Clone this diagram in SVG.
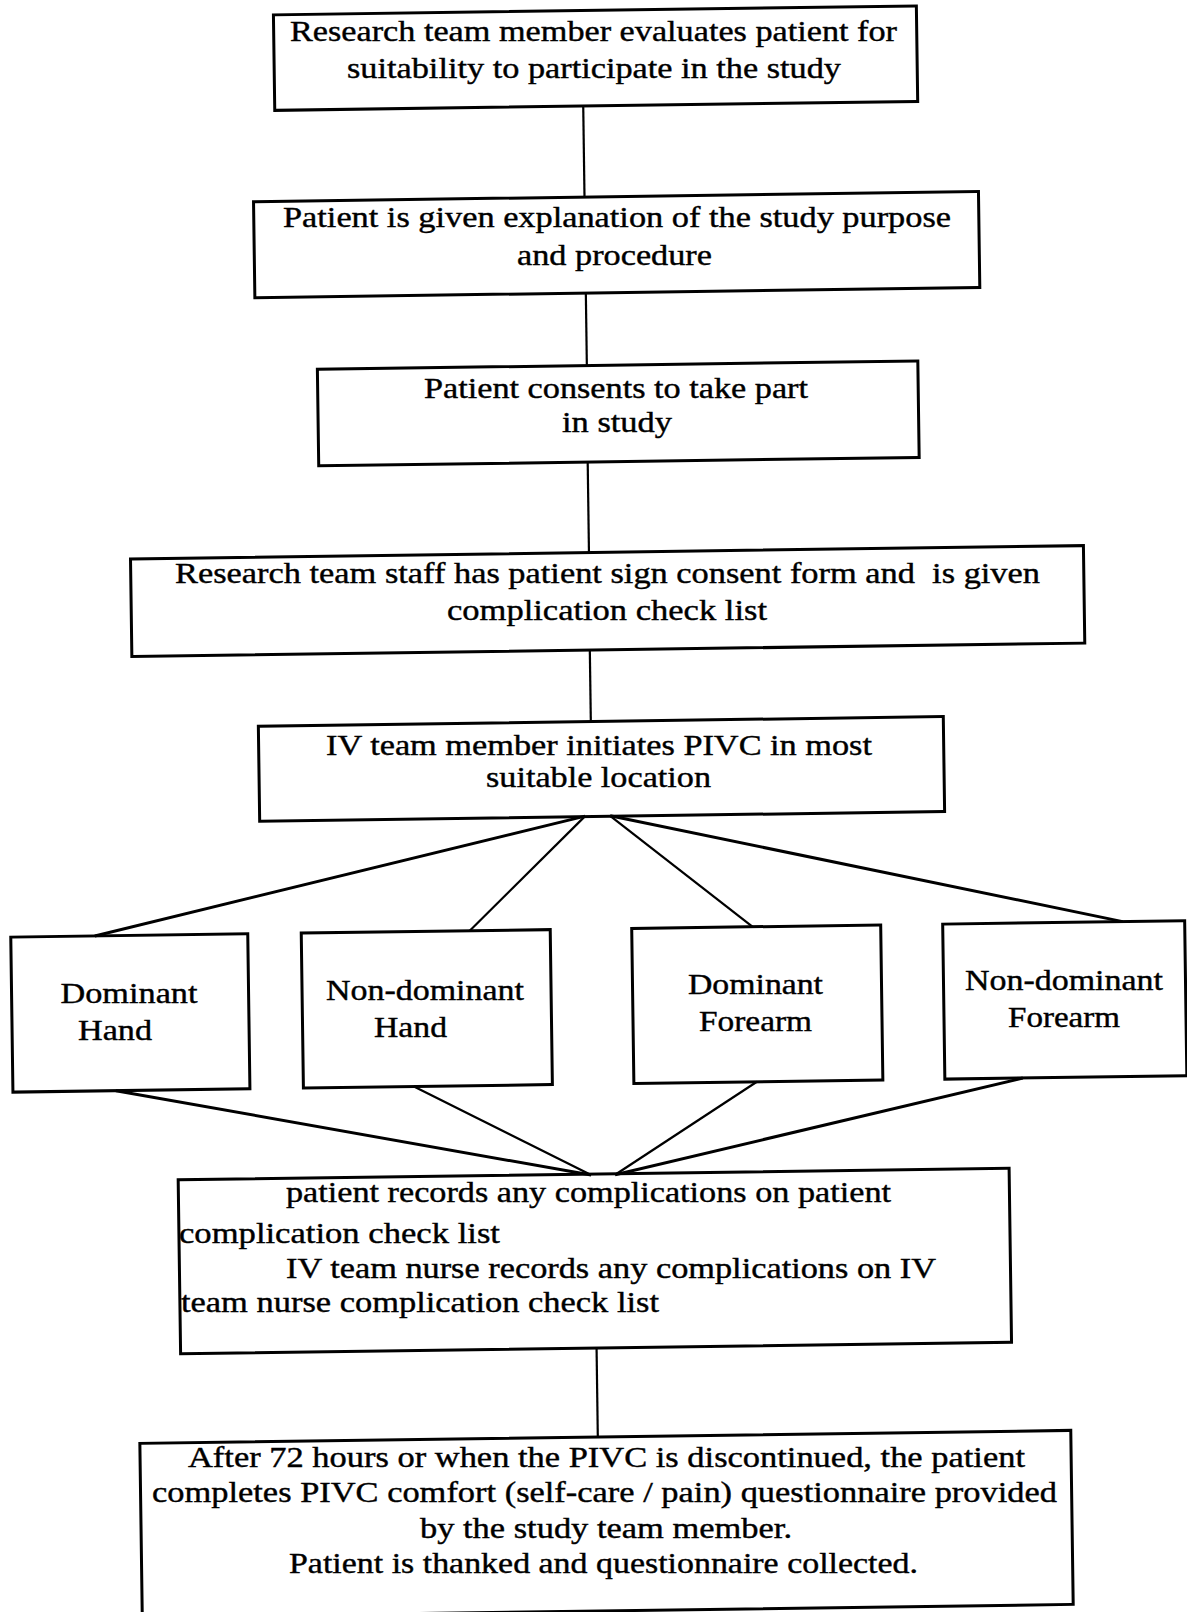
<svg xmlns="http://www.w3.org/2000/svg" width="1187" height="1612" viewBox="0 0 1187 1612">
<style>
.box{fill:none;stroke:#000;stroke-width:3}
.t{font-family:"Liberation Serif","Times New Roman",serif;font-size:29px;fill:#000;stroke:#000;stroke-width:0.4}
.m{text-anchor:middle}
.c{fill:none;stroke:#000;stroke-width:2.2}
.f{fill:none;stroke:#000;stroke-width:3}
</style>
<rect width="1187" height="1612" fill="#fff"/>
<g id="connectors" transform="rotate(-0.8 593 806)">
<line class="c" x1="593" y1="106" x2="593" y2="197"/>
<line class="c" x1="593" y1="293" x2="593" y2="365"/>
<line class="c" x1="592.5" y1="462" x2="592.5" y2="552"/>
<line class="c" x1="592" y1="650" x2="592" y2="722"/>
<line class="f" x1="585" y1="816" x2="93" y2="929"/>
<line class="c" x1="585" y1="816" x2="468" y2="929"/>
<line class="c" x1="610" y1="816" x2="751" y2="929"/>
<line class="f" x1="610" y1="816" x2="1121" y2="929"/>
<line class="f" x1="112" y1="1084" x2="586" y2="1175"/>
<line class="c" x1="410" y1="1084" x2="586" y2="1175"/>
<line class="c" x1="753" y1="1084" x2="610" y2="1175"/>
<line class="f" x1="1019" y1="1084" x2="610" y2="1175"/>
<line class="c" x1="589" y1="1348" x2="589" y2="1437"/>
</g>
<g id="n1">
<rect class="box" x="284.5" y="10.5" width="643" height="95.5" transform="rotate(-0.8 593 806)"/>
<text class="t m" x="593.5" y="41" textLength="607" lengthAdjust="spacingAndGlyphs">Research team member evaluates patient for</text>
<text class="t m" x="594" y="77.5" textLength="494" lengthAdjust="spacingAndGlyphs">suitability to participate in the study</text>
</g>
<g id="n2">
<rect class="box" x="262" y="197" width="725" height="96" transform="rotate(-0.8 593 806)"/>
<text class="t m" x="617" y="227" textLength="668" lengthAdjust="spacingAndGlyphs">Patient is given explanation of the study purpose</text>
<text class="t m" x="614.5" y="265" textLength="195" lengthAdjust="spacingAndGlyphs">and procedure</text>
</g>
<g id="n3">
<rect class="box" x="323.5" y="365.5" width="600.5" height="96.5" transform="rotate(-0.8 593 806)"/>
<text class="t m" x="616" y="398" textLength="384" lengthAdjust="spacingAndGlyphs">Patient consents to take part</text>
<text class="t m" x="617" y="432" textLength="110" lengthAdjust="spacingAndGlyphs">in study</text>
</g>
<g id="n4">
<rect class="box" x="134" y="552.5" width="953" height="97.5" transform="rotate(-0.8 593 806)"/>
<text class="t m" x="607.5" y="582.5" textLength="865" lengthAdjust="spacingAndGlyphs" xml:space="preserve">Research team staff has patient sign consent form and  is given</text>
<text class="t m" x="607" y="620" textLength="320" lengthAdjust="spacingAndGlyphs">complication check list</text>
</g>
<g id="n5">
<rect class="box" x="259.5" y="721.5" width="685" height="95" transform="rotate(-0.8 593 806)"/>
<text class="t m" x="599" y="754.5" textLength="546" lengthAdjust="spacingAndGlyphs">IV team member initiates PIVC in most</text>
<text class="t m" x="598.5" y="787" textLength="225" lengthAdjust="spacingAndGlyphs">suitable location</text>
</g>
<g id="n6">
<rect class="box" x="9" y="929" width="237" height="155" transform="rotate(-0.8 593 806)"/>
<text class="t m" x="129" y="1002.5" textLength="137" lengthAdjust="spacingAndGlyphs">Dominant</text>
<text class="t m" x="115" y="1040" textLength="74" lengthAdjust="spacingAndGlyphs">Hand</text>
</g>
<g id="n7">
<rect class="box" x="299.5" y="929" width="249" height="155" transform="rotate(-0.8 593 806)"/>
<text class="t m" x="425" y="999.5" textLength="198" lengthAdjust="spacingAndGlyphs">Non-dominant</text>
<text class="t m" x="410.5" y="1036.5" textLength="73" lengthAdjust="spacingAndGlyphs">Hand</text>
</g>
<g id="n8">
<rect class="box" x="630" y="929" width="249" height="155" transform="rotate(-0.8 593 806)"/>
<text class="t m" x="755.5" y="993.5" textLength="135" lengthAdjust="spacingAndGlyphs">Dominant</text>
<text class="t m" x="755.5" y="1030.5" textLength="113" lengthAdjust="spacingAndGlyphs">Forearm</text>
</g>
<g id="n9">
<rect class="box" x="941" y="929" width="242" height="155" transform="rotate(-0.8 593 806)"/>
<text class="t m" x="1064" y="990" textLength="198" lengthAdjust="spacingAndGlyphs">Non-dominant</text>
<text class="t m" x="1064" y="1027" textLength="112" lengthAdjust="spacingAndGlyphs">Forearm</text>
</g>
<g id="n10">
<rect class="box" x="173" y="1174" width="831" height="174" transform="rotate(-0.8 593 806)"/>
<text class="t" x="286" y="1201.5" textLength="605" lengthAdjust="spacingAndGlyphs">patient records any complications on patient</text>
<text class="t" x="179" y="1243" textLength="321" lengthAdjust="spacingAndGlyphs">complication check list</text>
<text class="t" x="286" y="1277.5" textLength="650" lengthAdjust="spacingAndGlyphs">IV team nurse records any complications on IV</text>
<text class="t" x="181" y="1312" textLength="478" lengthAdjust="spacingAndGlyphs">team nurse complication check list</text>
</g>
<g id="n11">
<rect class="box" x="131" y="1437" width="931" height="174" transform="rotate(-0.8 593 806)"/>
<text class="t m" x="606.5" y="1467" textLength="837" lengthAdjust="spacingAndGlyphs">After 72 hours or when the PIVC is discontinued, the patient</text>
<text class="t m" x="604.5" y="1502" textLength="905" lengthAdjust="spacingAndGlyphs">completes PIVC comfort (self-care / pain) questionnaire provided</text>
<text class="t m" x="606" y="1538" textLength="372" lengthAdjust="spacingAndGlyphs">by the study team member.</text>
<text class="t m" x="603.5" y="1573" textLength="629" lengthAdjust="spacingAndGlyphs">Patient is thanked and questionnaire collected.</text>
</g>
</svg>
